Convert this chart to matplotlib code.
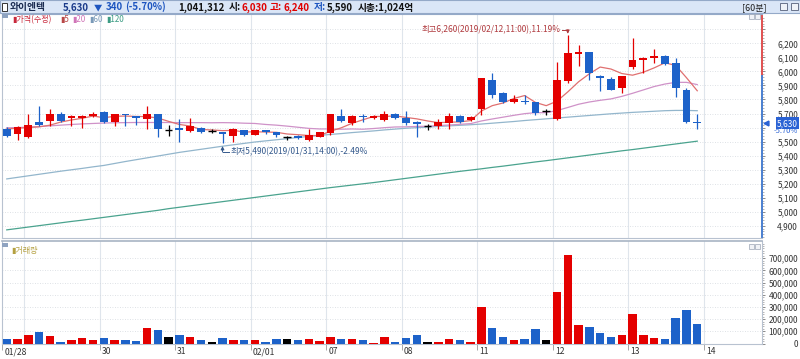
import matplotlib
matplotlib.use('Agg')
import matplotlib.pyplot as plt
import matplotlib.transforms as mtransforms
from matplotlib.patches import Rectangle
import numpy as np

plt.rcParams['font.family'] = ['Noto Sans CJK KR', 'DejaVu Sans']

W, H = 800, 359

# 와이엔텍 60분봉 (01/28 14:00 ~ 02/13 15:30)
opens = [5590, 5555, 5530, 5640, 5650, 5700, 5665, 5665, 5685, 5710,
         5640, 5700, 5680, 5660, 5700, 5580, 5600, 5575, 5600, 5575,
         5565, 5540, 5580, 5550, 5580, 5565, 5530, 5540, 5510, 5535,
         5560, 5685, 5630, 5685, 5670, 5655, 5700, 5665, 5640, 5610,
         5610, 5630, 5685, 5655, 5735, 5940, 5845, 5780, 5790, 5780,
         5715, 5660, 5930, 6125, 6140, 5965, 5945, 5880, 6030, 6080,
         6095, 6110, 6060, 5870, 5640]
highs = [5605, 5610, 5700, 5750, 5730, 5710, 5690, 5690, 5710, 5715,
         5700, 5700, 5685, 5750, 5700, 5620, 5660, 5670, 5605, 5590,
         5570, 5595, 5585, 5585, 5585, 5570, 5540, 5545, 5590, 5570,
         5700, 5730, 5690, 5700, 5690, 5720, 5705, 5720, 5645, 5625,
         5660, 5705, 5690, 5680, 5950, 5990, 5855, 5830, 5830, 5785,
         5730, 6070, 6260, 6190, 6140, 5975, 5960, 5970, 6240, 6100,
         6160, 6115, 6095, 5885, 5700]
lows = [5535, 5510, 5525, 5610, 5610, 5640, 5610, 5600, 5675, 5630,
        5610, 5610, 5620, 5590, 5535, 5540, 5500, 5570, 5560, 5560,
        5490, 5500, 5540, 5545, 5555, 5535, 5510, 5520, 5505, 5530,
        5550, 5640, 5620, 5640, 5660, 5645, 5660, 5620, 5530, 5585,
        5590, 5590, 5630, 5645, 5690, 5810, 5775, 5775, 5770, 5690,
        5690, 5655, 5920, 6035, 5940, 5860, 5865, 5845, 6020, 5990,
        6060, 6045, 5820, 5630, 5590]
closes = [5540, 5605, 5620, 5620, 5700, 5650, 5680, 5680, 5700, 5640,
          5700, 5690, 5665, 5695, 5590, 5580, 5580, 5610, 5570, 5575,
          5555, 5590, 5550, 5580, 5565, 5545, 5530, 5525, 5550, 5565,
          5700, 5650, 5685, 5675, 5685, 5700, 5670, 5630, 5625, 5610,
          5640, 5685, 5640, 5675, 5950, 5830, 5780, 5800, 5780, 5705,
          5715, 5940, 6130, 6140, 5990, 5955, 5870, 5970, 6080, 6095,
          6110, 6050, 5880, 5640, 5630]
volumes = [38000, 38000, 71000, 98000, 60000, 11000, 30000, 49000, 25000, 46000,
           30000, 30000, 19000, 126000, 107000, 57000, 66000, 57000, 30000, 11000,
           49000, 30000, 25000, 30000, 16000, 33000, 33000, 25000, 38000, 19000,
           57000, 33000, 33000, 25000, 8000, 57000, 16000, 49000, 66000, 11000,
           16000, 38000, 30000, 16000, 298000, 128000, 55000, 27000, 38000, 120000,
           27000, 421000, 727000, 153000, 139000, 90000, 55000, 66000, 243000, 66000,
           49000, 33000, 213000, 276000, 156000]

# 이동평균
ma5 = [5590, 5595, 5600, 5605, 5617, 5639, 5654, 5666, 5682, 5670,
       5680, 5682, 5679, 5678, 5668, 5644, 5622, 5611, 5586, 5583,
       5578, 5580, 5568, 5570, 5568, 5566, 5554, 5549, 5543, 5543,
       5574, 5598, 5630, 5655, 5679, 5679, 5683, 5672, 5662, 5647,
       5635, 5638, 5640, 5650, 5718, 5756, 5775, 5807, 5828, 5779,
       5756, 5788, 5854, 5926, 5983, 6031, 6017, 5985, 5973, 5994,
       6025, 6061, 6043, 5955, 5862]
ma20 = [5598, 5600, 5603, 5607, 5612, 5617, 5622, 5626, 5629, 5632,
        5634, 5635, 5636, 5636, 5636, 5636, 5635, 5635, 5635, 5634,
        5635, 5634, 5631, 5629, 5622, 5617, 5610, 5602, 5594, 5590,
        5590, 5588, 5590, 5588, 5593, 5599, 5604, 5605, 5608, 5609,
        5614, 5618, 5623, 5628, 5647, 5661, 5674, 5687, 5699, 5706,
        5706, 5721, 5743, 5766, 5782, 5794, 5804, 5822, 5844, 5868,
        5892, 5910, 5922, 5922, 5906]
ma60 = [5234, 5245, 5256, 5267, 5278, 5289, 5299, 5309, 5320, 5330,
        5344, 5358, 5371, 5384, 5397, 5410, 5423, 5434, 5445, 5456,
        5467, 5477, 5487, 5497, 5505, 5513, 5521, 5529, 5537, 5544,
        5551, 5557, 5564, 5570, 5576, 5583, 5589, 5595, 5599, 5603,
        5608, 5612, 5616, 5620, 5625, 5631, 5637, 5643, 5650, 5656,
        5662, 5668, 5674, 5680, 5686, 5692, 5698, 5703, 5708, 5712,
        5716, 5720, 5722, 5722, 5720]
ma120 = [4871, 4881, 4891, 4901, 4911, 4921, 4931, 4940, 4950, 4960,
         4970, 4980, 4990, 5000, 5010, 5022, 5032, 5042, 5052, 5062,
         5072, 5082, 5092, 5102, 5112, 5122, 5132, 5142, 5152, 5162,
         5172, 5181, 5190, 5199, 5208, 5218, 5228, 5238, 5248, 5258,
         5268, 5278, 5288, 5297, 5306, 5316, 5325, 5335, 5345, 5355,
         5364, 5374, 5384, 5394, 5404, 5414, 5424, 5434, 5443, 5453,
         5463, 5473, 5483, 5493, 5503]

day_starts = [0, 2, 9, 16, 23, 30, 37, 44, 51, 58, 65]
day_labels = ['01/28', '', '30', '31', '02/01', '07', '08', '11', '12', '13', '14']

prev_close = 5970
stock = '와이엔텍'
day_volume = '1,041,312'
day_open, day_high, day_low = '6,030', '6,240', '5,590'
market_cap = '1,024억'

up_col, dn_col, doji_col = '#e40000', '#1d62c9', '#000000'
grid_col = '#dfe5ec'
spine_col = '#b8c2d0'


def fx(px):
    return px / W


def fy(py):
    return 1 - py / H


fig = plt.figure(figsize=(W / 100, H / 100), dpi=100)

# ---- title bar ----
fig.patches.append(Rectangle((0, fy(13)), 1, 13 / H, transform=fig.transFigure,
                             fc='#dae6f7', ec='#94a9c8', lw=0.8))
fig.patches.append(Rectangle((fx(2), fy(10.5)), 5 / W, 8 / H, transform=fig.transFigure,
                             fc='white', ec='#333333', lw=0.7))
last = closes[-1]
chg = last - prev_close
pct = chg / prev_close * 100
hdr = dict(va='baseline', ha='left', fontsize=7, fontweight='bold')
ty = fy(10.3)
fig.text(fx(10), ty, stock, color='#1a2a50', **hdr)
fig.text(fx(63), ty, f'{last:,}', color='#1a3a8a', **hdr)
fig.text(fx(94), ty, '▼', color='#1d55c0', va='baseline', ha='left', fontsize=6)
fig.text(fx(106), ty, f'{abs(chg):,}', color='#1d55c0', **hdr)
fig.text(fx(125), ty, f'({pct:.2f}%)', color='#1d55c0', **hdr)
fig.text(fx(178), ty, day_volume, color='#111111', **hdr)
fig.text(fx(229), ty, '시:', color='#111111', **hdr)
fig.text(fx(242), ty, day_open, color='#e00000', **hdr)
fig.text(fx(270), ty, '고:', color='#e00000', **hdr)
fig.text(fx(283), ty, day_high, color='#e00000', **hdr)
fig.text(fx(314), ty, '저:', color='#1d55c0', **hdr)
fig.text(fx(327), ty, day_low, color='#111111', **hdr)
fig.text(fx(358), ty, '시총:' + market_cap, color='#111111', **hdr)
fig.text(fx(742), ty, '[60분]', color='#222222', va='baseline', ha='left', fontsize=6.5)
for bx in (780, 791):
    fig.patches.append(Rectangle((fx(bx), fy(10)), 7 / W, 7 / H, transform=fig.transFigure,
                                 fc='#eef2f8', ec='#55607a', lw=0.6))

# ---- price panel ----
ax1 = fig.add_axes([fx(2), fy(238), 760 / W, 224 / H])
ax2 = fig.add_axes([fx(2), fy(343.5), 760 / W, 102.5 / H])

x = np.arange(len(closes))
cols = [up_col if c > o else dn_col if c < o else doji_col for o, c in zip(opens, closes)]
body_w = 0.72

ax1.vlines(x, lows, highs, colors=cols, lw=0.9, zorder=3)
bottoms = np.minimum(opens, closes)
heights = np.abs(np.array(closes) - np.array(opens))
ax1.bar(x, heights, bottom=bottoms, width=body_w, color=cols, lw=0, zorder=4)
doji = [i for i in x if opens[i] == closes[i]]
ax1.hlines([closes[i] for i in doji], [i - body_w / 2 for i in doji],
           [i + body_w / 2 for i in doji], colors=doji_col, lw=1.0, zorder=4)

ax1.plot(x, ma120, color='#4aa38e', lw=0.9, zorder=2)
ax1.plot(x, ma60, color='#93b6cc', lw=0.9, zorder=2)
ax1.plot(x, ma20, color='#cf92c8', lw=0.9, zorder=2)
ax1.plot(x, ma5, color='#e07070', lw=0.9, zorder=2)

xmin, xmax = -0.44, 70.0
ax1.set_xlim(xmin, xmax)
ax1.set_ylim(4813, 6409)
ax2.set_xlim(xmin, xmax)
ax2.set_ylim(0, 841000)

for ax in (ax1, ax2):
    for d in day_starts[1:]:
        ax.axvline(d - 0.4, color=grid_col, lw=0.8, zorder=0)
    for s in ax.spines.values():
        s.set_color(spine_col)
        s.set_linewidth(0.8)

# price y axis on the right
pticks = list(range(4900, 6400, 100))
ax1.set_yticks(pticks)
ax1.set_yticks(range(4820, 6400, 20), minor=True)
plabels = [f'{v:,}' if v <= 6200 and v != 5600 else '' for v in pticks]
ax1.set_yticklabels(plabels, ha='right')
ax1.yaxis.tick_right()
pad_pt = (798 - 765) * 72 / 100
ax1.tick_params(axis='y', which='major', length=2.2, width=0.6, color='#777777',
                pad=pad_pt, labelsize=6, labelcolor='#333333')
ax1.tick_params(axis='y', which='minor', length=1.2, width=0.5, color='#999999')
ax1.tick_params(axis='x', bottom=False, labelbottom=False)
ax1.grid(axis='y', which='major', color='#d4d8de', lw=0.6, ls=(0, (1, 2)))
ax1.spines['right'].set_visible(False)
ax1.spines['top'].set_color('#94a9c8')

bt = mtransforms.blended_transform_factory(ax1.transAxes, ax1.transData)
ax1.plot([1, 1], [prev_close, 6409], color='#e05050', lw=1.4, transform=bt, clip_on=False)
ax1.plot([1, 1], [4813, prev_close], color='#4a7fd0', lw=1.4, transform=bt, clip_on=False)

# current price marker
ax1.text((798 - 2) / 760, last, f'{last:,}', transform=bt, ha='right', va='center',
         fontsize=6, color='white', clip_on=False, zorder=6,
         bbox=dict(boxstyle='square,pad=0.18', fc='#2a62d4', ec='none'))
ax1.plot([(766 - 2) / 760], [last], marker='<', ms=3.5, color='#2a62d4',
         transform=bt, clip_on=False)
off = mtransforms.ScaledTranslation(0, -8 / 100, fig.dpi_scale_trans)
ax1.text((798 - 2) / 760, last, f'{pct:.2f}%', transform=bt + off, ha='right',
         va='center', fontsize=5.5, color='#2a62d4', clip_on=False)

# high / low annotations
hi_k = int(np.argmax(highs))
lo_k = int(np.argmin(lows))
hi, lo = highs[hi_k], lows[lo_k]
hi_txt = f'최고{hi:,}(2019/02/12,11:00),{(hi - last) / last * 100:.2f}%'
lo_txt = f'최저{lo:,}(2019/01/31,14:00),{(lo - last) / last * 100:.2f}%'
hi_col, lo_col = '#b03a3e', '#34598c'
hy = 6296
ax1.plot([hi_k - 0.55, hi_k], [hy, hy], color=hi_col, lw=0.7)
ax1.annotate('', xy=(hi_k, hi + 8), xytext=(hi_k, hy),
             arrowprops=dict(arrowstyle='-|>', color=hi_col, lw=0.7,
                             shrinkA=0, shrinkB=0, mutation_scale=5))
ax1.text(hi_k - 0.65, hy, hi_txt, ha='right', va='center', fontsize=6, color=hi_col)
ly = 5425
ax1.plot([lo_k, lo_k + 0.6], [ly, ly], color=lo_col, lw=0.7)
ax1.annotate('', xy=(lo_k, lo - 22), xytext=(lo_k, ly),
             arrowprops=dict(arrowstyle='-|>', color=lo_col, lw=0.7,
                             shrinkA=0, shrinkB=0, mutation_scale=5))
ax1.text(lo_k + 0.7, ly, lo_txt, ha='left', va='center', fontsize=6, color=lo_col)

# legend row
fig.patches.append(Rectangle((fx(2), fy(17.5)), 6 / W, 3.5 / H, transform=fig.transFigure,
                             fc='#8fa3c0', ec='none'))
leg = [(12, '▮가격(수정)', '#c8283c'), (60, '▮5', '#b84848'), (72, '▮20', '#d075b8'),
       (89, '▮60', '#7a9ab8'), (106, '▮120', '#3c9c84')]
for px, s, c in leg:
    fig.text(fx(px), fy(19.5), s, color=c, fontsize=5.8, va='center', ha='left')
for bx in (749, 755):
    fig.patches.append(Rectangle((fx(bx), fy(19)), 5 / W, 5 / H, transform=fig.transFigure,
                                 fc='#f0f2f6', ec='#9aa4b4', lw=0.5))

# ---- volume panel ----
ax2.bar(x, volumes, width=0.78, color=cols, lw=0, zorder=3)
vticks = list(range(0, 800000, 100000))
ax2.set_yticks(vticks)
ax2.set_yticks(range(0, 840000, 20000), minor=True)
ax2.set_yticklabels([f'{v:,}' for v in vticks], ha='right')
ax2.yaxis.tick_right()
ax2.tick_params(axis='y', which='major', length=2.2, width=0.6, color='#777777',
                pad=pad_pt, labelsize=6, labelcolor='#333333')
ax2.tick_params(axis='y', which='minor', length=1.2, width=0.5, color='#999999')
ax2.grid(axis='y', which='major', color='#d4d8de', lw=0.6, ls=(0, (1, 2)))
ax2.spines['top'].set_color('#a8b4c4')
ax2.spines['top'].set_linewidth(1.2)

tick_pos = [d - 0.4 for d, lab in zip(day_starts, day_labels) if lab]
ax2.set_xticks(tick_pos)
ax2.tick_params(axis='x', length=4, width=0.6, color='#999999', labelbottom=False)
bx_t = mtransforms.blended_transform_factory(ax2.transData, ax2.transAxes)
for d, lab in zip(day_starts, day_labels):
    if lab:
        ax2.text(d - 0.2, -0.035, lab, transform=bx_t, ha='left', va='top',
                 fontsize=6.2, color='#333333', clip_on=False)

fig.patches.append(Rectangle((fx(2), fy(246.5)), 6 / W, 3.5 / H, transform=fig.transFigure,
                             fc='#8fa3c0', ec='none'))
fig.text(fx(11), fy(250), '▮거래량', color='#b4a040', fontsize=5.8, va='center', ha='left')
for bx in (749, 755):
    fig.patches.append(Rectangle((fx(bx), fy(249)), 5 / W, 5 / H, transform=fig.transFigure,
                                 fc='#f0f2f6', ec='#9aa4b4', lw=0.5))

fig.savefig('out.png', dpi=100)
